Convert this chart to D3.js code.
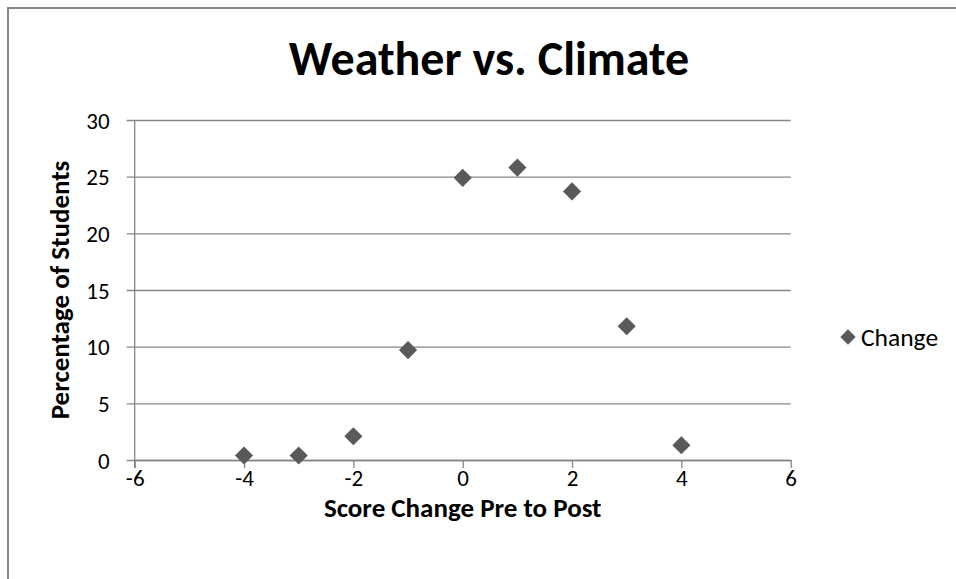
<!DOCTYPE html>
<html>
<head>
<meta charset="utf-8">
<script src="https://cdn.jsdelivr.net/npm/d3@7"></script>
<style>
  html, body { margin: 0; padding: 0; background: #fff; }
  svg { display: block; }
  text { font-family: Carlito, Calibri, Lato, sans-serif; fill: #000; }
</style>
</head>
<body>
<svg id="chart" width="956" height="579"></svg>
<script>
// Score change (post minus pre) and share of students with that change
const scoreChange = [-4, -3, -2, -1, 0, 1, 2, 3, 4];
const percentStudents = [0.4, 0.4, 2.1, 9.7, 24.9, 25.8, 23.7, 11.8, 1.3];
const xTicks = [-6, -4, -2, 0, 2, 4, 6];
const yTicks = [0, 5, 10, 15, 20, 25, 30];
const seriesName = "Change";
const chartTitle = "Weather vs. Climate";
const xTitle = "Score Change Pre to Post";
const yTitle = "Percentage of Students";

const svg = d3.select("#chart");
const gridColor = "#868686";
const markColor = "#595959";
const plain = d => String(d); // keep ASCII hyphen for negatives

// chart frame (right and bottom edges run past the page)
svg.append("rect")
  .attr("x", 8).attr("y", 8)
  .attr("width", 980).attr("height", 600)
  .attr("fill", "#fff")
  .attr("stroke", gridColor).attr("stroke-width", 2);

const x = d3.scaleLinear().domain([-6, 6]).range([134.7, 790.7]);
const y = d3.scaleLinear().domain([0, 30]).range([460, 120]);

// horizontal gridlines with short tick marks on the left
const yAxis = d3.axisLeft(y).tickValues(yTicks).tickFormat(plain)
  .tickSizeInner(-(x(6) - x(-6))).tickSizeOuter(0).tickPadding(0);
const gy = svg.append("g").attr("transform", `translate(${x(-6)},0)`).call(yAxis);
gy.select(".domain").remove();
gy.selectAll(".tick line").attr("stroke", gridColor).attr("stroke-width", 1.3)
  .attr("x1", -8);
gy.selectAll(".tick text")
  .attr("x", -25).attr("dy", "0.36em")
  .style("font-size", "23px").attr("fill", "#000");

// vertical axis line
svg.append("line")
  .attr("x1", x(-6)).attr("x2", x(-6))
  .attr("y1", y(30)).attr("y2", y(0) + 8)
  .attr("stroke", gridColor).attr("stroke-width", 1.3);

// horizontal axis
const xAxis = d3.axisBottom(x).tickValues(xTicks).tickFormat(plain)
  .tickSizeInner(8).tickSizeOuter(0).tickPadding(2);
const gx = svg.append("g").attr("transform", `translate(0,${y(0)})`).call(xAxis);
gx.select(".domain").attr("stroke", gridColor).attr("stroke-width", 1.3);
gx.selectAll(".tick line").attr("stroke", gridColor).attr("stroke-width", 1.3);
gx.selectAll(".tick text").style("font-size", "23px").attr("fill", "#000");

// data points as diamonds
const diamond = d3.symbol().type(d3.symbolDiamond2).size(210);
svg.append("g").selectAll("path")
  .data(scoreChange.map((d, i) => ({ x: d, y: percentStudents[i] })))
  .join("path")
  .attr("d", diamond)
  .attr("transform", d => `translate(${x(d.x)},${y(d.y)})`)
  .attr("fill", markColor);

// titles
svg.append("text")
  .attr("x", 489).attr("y", 75)
  .attr("text-anchor", "middle")
  .style("font-size", "48px").style("font-weight", "bold")
  .text(chartTitle);

svg.append("text")
  .attr("x", x(0)).attr("y", 517)
  .attr("text-anchor", "middle")
  .style("font-size", "27px").style("font-weight", "bold")
  .text(xTitle);

svg.append("text")
  .attr("transform", `translate(69,${(y(0) + y(30)) / 2}) rotate(-90)`)
  .attr("text-anchor", "middle")
  .style("font-size", "27px").style("font-weight", "bold")
  .text(yTitle);

// legend
const legend = svg.append("g").attr("transform", "translate(848,337)");
legend.append("path")
  .attr("d", d3.symbol().type(d3.symbolDiamond2).size(150))
  .attr("fill", markColor);
legend.append("text")
  .attr("x", 13).attr("dy", "0.36em")
  .style("font-size", "25.5px")
  .text(seriesName);
</script>
</body>
</html>
